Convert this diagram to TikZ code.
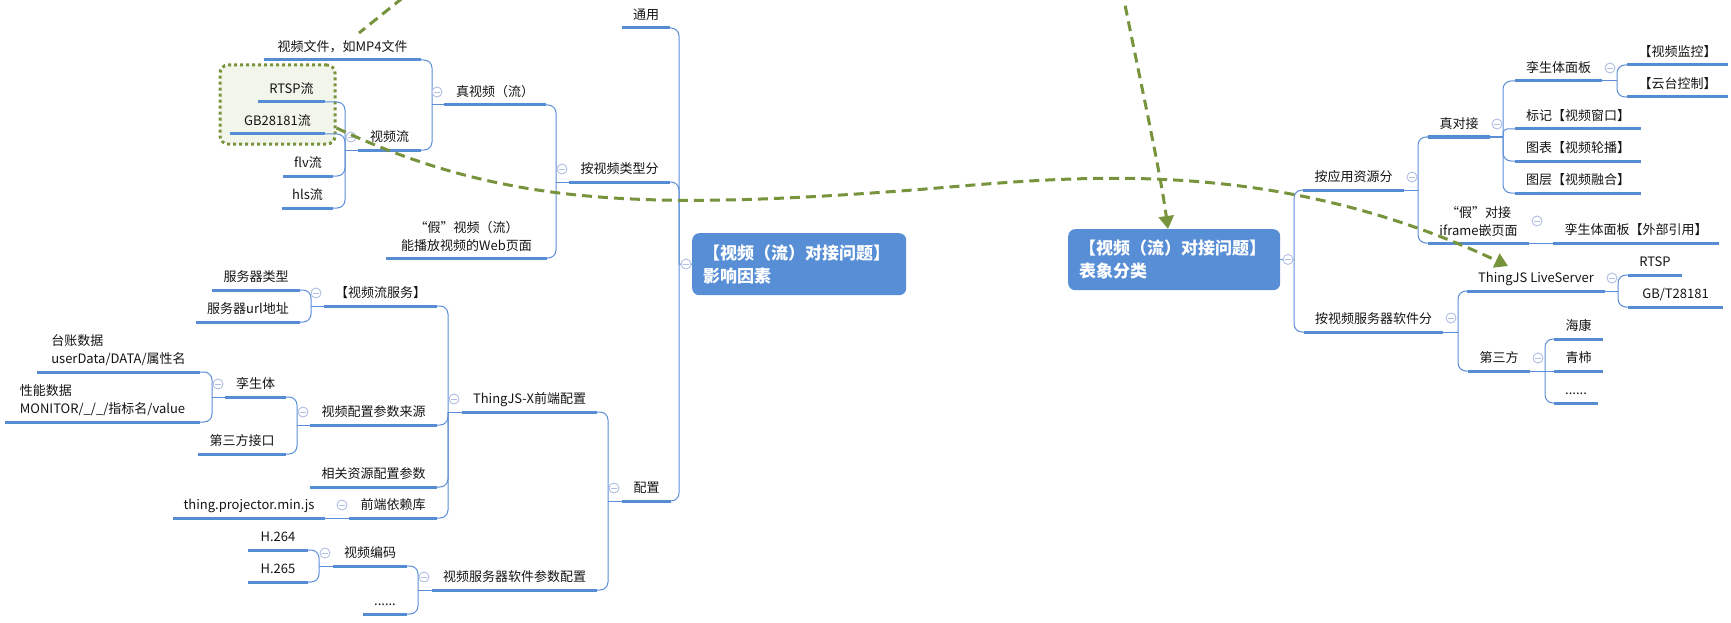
\documentclass[tikz,border=0pt]{standalone}
\usepackage{fontspec}
\setmainfont{Noto Sans CJK SC}
\usetikzlibrary{arrows.meta,calc}
\definecolor{lineblue}{RGB}{90,142,214}
\definecolor{ulblue}{RGB}{86,140,212}
\definecolor{boxblue}{RGB}{87,142,213}
\definecolor{olive}{RGB}{119,147,60}
\definecolor{olivefill}{RGB}{242,245,234}
\definecolor{ccol}{RGB}{176,190,228}
\definecolor{txt}{RGB}{20,20,20}
\begin{document}
\begin{tikzpicture}[x=1pt,y=-1pt,
 topic/.style={anchor=south, inner sep=0pt, minimum height=26pt, text height=11pt, text depth=2pt, font=\fontsize{13pt}{18pt}\selectfont, text=txt},
 topictwo/.style={anchor=south, inner sep=0pt, minimum height=43pt, font=\fontsize{13pt}{18pt}\selectfont, text=txt, align=center},
 topicleft/.style={topictwo, align=left},
 mainbox/.style={rounded corners=7pt, fill=boxblue, text=white, font=\fontsize{17pt}{23pt}\selectfont\bfseries, align=left, inner xsep=11pt, inner ysep=0pt, anchor=north west},
 conn/.style={draw=lineblue, line width=1pt, rounded corners=8pt},
 uline/.style={draw=ulblue, line width=3pt},
 collapse/.style={circle, draw=ccol, fill=white, line width=0.9pt, minimum size=10pt, inner sep=0pt, path picture={\draw[ccol, line width=0.9pt] ([xshift=-2.8pt]path picture bounding box.center) -- ([xshift=2.8pt]path picture bounding box.center);}},
 rel/.style={draw=olive, line width=3pt, dash pattern=on 10pt off 6pt},
 relarrow/.style={rel, -{Triangle[width=15pt,length=13pt]}},
]
\useasboundingbox (0,0) rectangle (1731,623);

% dotted group box
\node[draw=olive, fill=olivefill, line width=3pt, dash pattern=on 3pt off 3pt, rounded corners=8pt, minimum width=115pt, minimum height=79pt, inner sep=0pt] (gbbox) at (277.5,104.5) {};

% ---------- left tree ----------
\node[topic, minimum width=48pt] (tongyong) at (646,28) {通用};
\node[topic, minimum width=101pt] (anleixing) at (619.5,182) {按视频类型分};
\node[topic, minimum width=102pt] (zhenshipin) at (495,105) {真视频（流）};
\node[topic, minimum width=157pt] (wenjian) at (342.5,60) {视频文件，如MP4文件};
\node[topic, minimum width=63pt] (shipinliu) at (389.5,150) {视频流};
\node[topic, minimum width=67pt] (rtsp) at (291.5,102) {RTSP流};
\node[topic, minimum width=95pt] (gb) at (277.5,134) {GB28181流};
\node[topic, minimum width=50pt] (flv) at (308,176) {flv流};
\node[topic, minimum width=51pt] (hls) at (307.5,208) {hls流};
\node[topictwo, minimum width=161pt] (jiashipin) at (466.5,258) {“假”视频（流）\\能播放视频的Web页面};
\node[topic, minimum width=49pt] (peizhi) at (646.5,501) {配置};
\node[topic, minimum width=135pt] (thingjsx) at (529.5,412) {ThingJS-X前端配置};
\node[topic, minimum width=113pt] (liufuwu) at (380.5,306) {【视频流服务】};
\node[topic, minimum width=88pt] (fwqlx) at (256,290) {服务器类型};
\node[topic, minimum width=104pt] (fwqurl) at (248,322) {服务器url地址};
\node[topic, minimum width=127pt] (canshu) at (373.5,425) {视频配置参数来源};
\node[topic, minimum width=61pt] (lst) at (255.5,397) {孪生体};
\node[topicleft, minimum width=163pt] (taizhang) at (118.5,372) {台账数据\\userData/DATA/属性名};
\node[topicleft, minimum width=195pt] (xingneng) at (102.5,422) {性能数据\\MONITOR/\_/\_/指标名/value};
\node[topic, minimum width=88pt] (dsfjk) at (242,454) {第三方接口};
\node[topic, minimum width=127pt] (xiangguan) at (373.5,487) {相关资源配置参数};
\node[topic, minimum width=88pt] (qianduan) at (393,518) {前端依赖库};
\node[topic, minimum width=152pt] (projector) at (249,518) {thing.projector.min.js};
\node[topic, minimum width=165pt] (rjcanshu) at (514.5,590) {视频服务器软件参数配置};
\node[topic, minimum width=74pt] (bianma) at (370,566) {视频编码};
\node[topic, minimum width=60pt] (h264) at (278,550) {H.264};
\node[topic, minimum width=60pt] (h265) at (278,582) {H.265};
\node[topic, minimum width=44pt] (dotsL) at (385,614) {......};

% ---------- right tree ----------
\node[topic, minimum width=101pt] (anyy) at (1353.5,190) {按应用资源分};
\node[topic, minimum width=62pt] (zhendj) at (1459,137) {真对接};
\node[topic, minimum width=87pt] (lsmb) at (1558.5,81) {孪生体面板};
\node[topic, minimum width=101pt] (jiankong) at (1677.5,65) {【视频监控】};
\node[topic, minimum width=101pt] (yuntai) at (1677.5,97) {【云台控制】};
\node[topic, minimum width=126pt] (biaoji) at (1578,129) {标记【视频窗口】};
\node[topic, minimum width=126pt] (tubiao) at (1578,161) {图表【视频轮播】};
\node[topic, minimum width=126pt] (tuceng) at (1578,193) {图层【视频融合】};
\node[topictwo, minimum width=101pt] (jiadj) at (1478.5,243) {“假”对接\\iframe嵌页面};
\node[topic, minimum width=166pt] (waibu) at (1636,243) {孪生体面板【外部引用】};
\node[topic, minimum width=139pt] (anfwq) at (1373.5,332) {按视频服务器软件分};
\node[topic, minimum width=138pt] (live) at (1536,291) {ThingJS LiveServer};
\node[topic, minimum width=54pt] (rtspR) at (1655,275) {RTSP};
\node[topic, minimum width=95pt] (gbt) at (1675.5,307) {GB/T28181};
\node[topic, minimum width=62pt] (dsf) at (1499,371) {第三方};
\node[topic, minimum width=49pt] (haikang) at (1578.5,339) {海康};
\node[topic, minimum width=49pt] (qingshi) at (1578.5,371) {青柿};
\node[topic, minimum width=44pt] (dotsR) at (1576,403) {......};

% ---------- main topics ----------
\node[mainbox, minimum width=214pt, minimum height=62pt, text width=192pt] (lbox) at (692,233) {【视频（流）对接问题】\\影响因素};
\node[mainbox, minimum width=212pt, minimum height=61pt, text width=190pt] (rbox) at (1068,229) {【视频（流）对接问题】\\表象分类};

% underlines
\foreach \n in {tongyong,anleixing,zhenshipin,wenjian,shipinliu,rtsp,gb,flv,hls,jiashipin,peizhi,thingjsx,liufuwu,fwqlx,fwqurl,canshu,lst,taizhang,xingneng,dsfjk,xiangguan,qianduan,projector,rjcanshu,bianma,h264,h265,dotsL,anyy,zhendj,lsmb,jiankong,yuntai,biaoji,tubiao,tuceng,jiadj,waibu,anfwq,live,rtspR,gbt,dsf,haikang,qingshi,dotsR}
  \draw[uline] (\n.south west) -- (\n.south east);

% ---------- left connectors ----------
\coordinate (jmain) at (679,264);
\draw[conn] (tongyong.south east) -| (jmain);
\draw[conn] (anleixing.south east) -| (jmain);
\draw[conn] (peizhi.south east) -| (jmain);
\draw[conn] (jmain) -- (lbox.west);

\coordinate (janl) at (556,182);
\draw[conn] (zhenshipin.south east) -| (janl);
\draw[conn] (jiashipin.south east) -| (janl);
\draw[conn] (anleixing.south west) -- (janl);

\coordinate (jzhen) at (432,105);
\draw[conn] (wenjian.south east) -| (jzhen);
\draw[conn] (shipinliu.south east) -| (jzhen);
\draw[conn] (zhenshipin.south west) -- (jzhen);

\coordinate (jliu) at (345,150);
\draw[conn] (rtsp.south east) -| (jliu);
\draw[conn] (gb.south east) -| (jliu);
\draw[conn] (flv.south east) -| (jliu);
\draw[conn] (hls.south east) -| (jliu);
\draw[conn] (shipinliu.south west) -- (jliu);

\coordinate (jpz) at (608,501);
\draw[conn] (thingjsx.south east) -| (jpz);
\draw[conn] (rjcanshu.south east) -| (jpz);
\draw[conn] (peizhi.south west) -- (jpz);

\coordinate (jtx) at (448,412);
\draw[conn] (liufuwu.south east) -| (jtx);
\draw[conn] (canshu.south east) -| (jtx);
\draw[conn] (xiangguan.south east) -| (jtx);
\draw[conn] (qianduan.south east) -| (jtx);
\draw[conn] (thingjsx.south west) -- (jtx);

\coordinate (jlf) at (311,306);
\draw[conn] (fwqlx.south east) -| (jlf);
\draw[conn] (fwqurl.south east) -| (jlf);
\draw[conn] (liufuwu.south west) -- (jlf);

\coordinate (jcs) at (297,425);
\draw[conn] (lst.south east) -| (jcs);
\draw[conn] (dsfjk.south east) -| (jcs);
\draw[conn] (canshu.south west) -- (jcs);

\coordinate (jlst) at (212,397);
\draw[conn] (taizhang.south east) -| (jlst);
\draw[conn] (xingneng.south east) -| (jlst);
\draw[conn] (lst.south west) -- (jlst);

\draw[conn] (qianduan.south west) -- (projector.south east);

\coordinate (jrj) at (418,590);
\draw[conn] (bianma.south east) -| (jrj);
\draw[conn] (dotsL.south east) -| (jrj);
\draw[conn] (rjcanshu.south west) -- (jrj);

\coordinate (jbm) at (319,566);
\draw[conn] (h264.south east) -| (jbm);
\draw[conn] (h265.south east) -| (jbm);
\draw[conn] (bianma.south west) -- (jbm);

% ---------- right connectors ----------
\coordinate (jR) at (1294,259.5);
\draw[conn] (anyy.south west) -| (jR);
\draw[conn] (anfwq.south west) -| (jR);
\draw[conn] (rbox.east) -- (jR);

\coordinate (jyy) at (1418,190);
\draw[conn] (zhendj.south west) -| (jyy);
\draw[conn] (jiadj.south west) -| (jyy);
\draw[conn] (anyy.south east) -- (jyy);

\coordinate (jzd) at (1503,137);
\draw[conn] (lsmb.south west) -| (jzd);
\draw[conn, rounded corners=4pt] (biaoji.south west) -| (jzd);
\draw[conn] (tubiao.south west) -| (jzd);
\draw[conn] (tuceng.south west) -| (jzd);
\draw[conn] (zhendj.south east) -- (jzd);

\coordinate (jmb) at (1617,81);
\draw[conn] (jiankong.south west) -| (jmb);
\draw[conn] (yuntai.south west) -| (jmb);
\draw[conn] (lsmb.south east) -- (jmb);

\draw[conn] (jiadj.south east) -- (waibu.south west);

\coordinate (jfwq) at (1458,332);
\draw[conn] (live.south west) -| (jfwq);
\draw[conn] (dsf.south west) -| (jfwq);
\draw[conn] (anfwq.south east) -- (jfwq);

\coordinate (jlive) at (1618,291);
\draw[conn] (rtspR.south west) -| (jlive);
\draw[conn] (gbt.south west) -| (jlive);
\draw[conn] (live.south east) -- (jlive);

\coordinate (jdsf) at (1545,371);
\draw[conn] (haikang.south west) -| (jdsf);
\draw[conn] (qingshi.south west) -- (jdsf);
\draw[conn] (dotsR.south west) -| (jdsf);
\draw[conn] (dsf.south east) -- (jdsf);

% ---------- collapse markers ----------
\node[collapse] (cmain) at (686,264) {};
\node[collapse] (canl) at (562,169) {};
\node[collapse] (czhen) at (437,92) {};
\node[collapse] (cliu) at (351,137) {};
\node[collapse] (cpz) at (614,488) {};
\node[collapse] (ctx) at (454,399) {};
\node[collapse] (clf) at (316,293) {};
\node[collapse] (ccs) at (303,412) {};
\node[collapse] (clst) at (218,384) {};
\node[collapse] (cqd) at (342,505) {};
\node[collapse] (crj) at (424,577) {};
\node[collapse] (cbm) at (325,553) {};
\node[collapse] (cR) at (1288,259.5) {};
\node[collapse] (cyy) at (1412,177) {};
\node[collapse] (czd) at (1497,124) {};
\node[collapse] (cmb) at (1610,68) {};
\node[collapse] (cjia) at (1537,221) {};
\node[collapse] (cfwq) at (1451,318) {};
\node[collapse] (clive) at (1612,278) {};
\node[collapse] (cdsf) at (1538,358) {};

% ---------- relationships ----------
\coordinate (r1s) at ($(gbbox.east)+(0,23.5)$);
\coordinate (r1e) at (1508,266);
\draw[relarrow] (r1s) .. controls (500,205) and (640,210) .. (900,191) .. controls (1050,180) and (1257,148) .. (r1e);
\coordinate (r2s) at (1122,-10);
\coordinate (r2e) at ($(rbox.north west)+(100,0)$);
\draw[relarrow] (r2s) .. controls (1140,80) and (1160,170) .. (r2e);
\coordinate (r3a) at (415,-12);
\coordinate (r3b) at (359,33);
\draw[rel] (r3a) -- (r3b);
\end{tikzpicture}
\end{document}
